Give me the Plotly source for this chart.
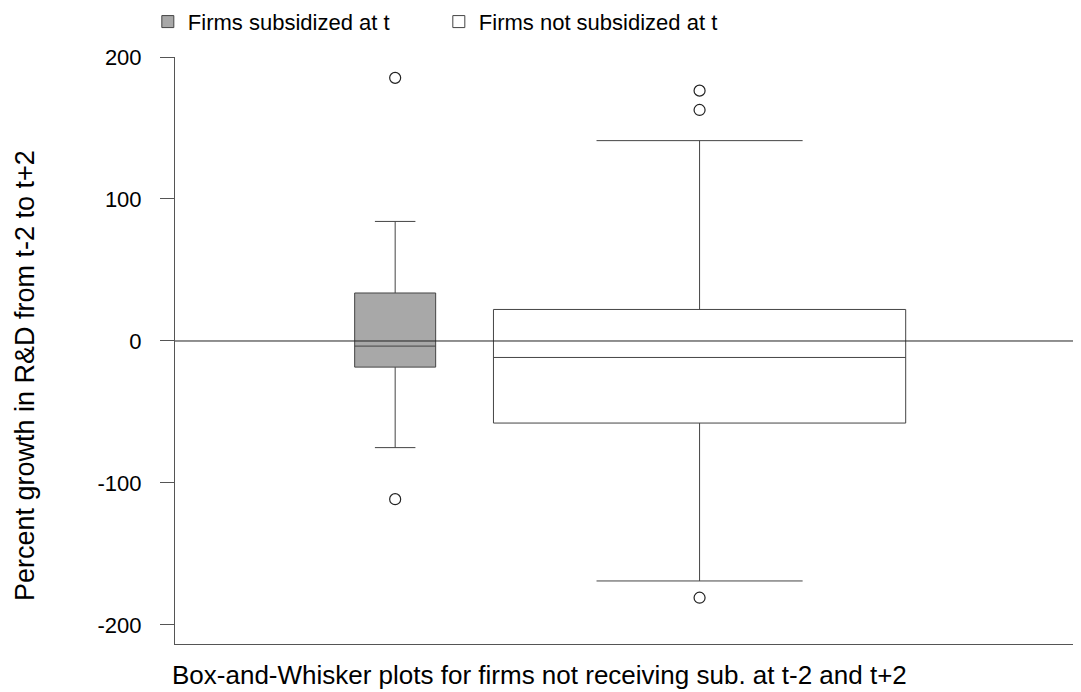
import plotly.graph_objects as go

# ---- data ----
groups = ["Firms subsidized at t", "Firms not subsidized at t"]
q1 = [-18.4, -57.8]
median = [-3.6, -11.6]
q3 = [33.8, 22.2]
lowerfence = [-75.1, -169.0]
upperfence = [84.2, 141.1]
outliers = [[185.3, -111.4], [176.3, 162.7, -180.8]]
ytick_vals = [-200, -100, 0, 100, 200]
ytick_text = ["-200", "-100", "0", "100", "200"]

# ---- layout constants ----
positions = [2.43, 5.79]
widths = [0.894, 4.55]
fills = ["#a8a8a8", "#ffffff"]
FONT = "Liberation Sans, Arial, Helvetica, sans-serif"

fig = go.Figure()
for i, name in enumerate(groups):
    fig.add_trace(go.Box(
        name=name,
        x=[positions[i]],
        q1=[q1[i]], median=[median[i]], q3=[q3[i]],
        lowerfence=[lowerfence[i]], upperfence=[upperfence[i]],
        width=widths[i],
        whiskerwidth=0.5,
        fillcolor=fills[i],
        line=dict(color="#444444", width=1),
        boxpoints=False,
        showlegend=True,
    ))
    fig.add_trace(go.Scatter(
        x=[positions[i]] * len(outliers[i]),
        y=outliers[i],
        mode="markers",
        marker=dict(symbol="circle-open", size=11, color="#222222", line=dict(width=1.2)),
        showlegend=False,
        hoverinfo="y",
    ))

# zero reference line
fig.add_shape(type="line", xref="paper", yref="y", x0=0, x1=1, y0=0, y1=0,
              line=dict(color="#222222", width=1))

fig.update_layout(
    width=1073, height=684,
    margin=dict(l=167, r=0, t=49, b=48, autoexpand=False),
    plot_bgcolor="white", paper_bgcolor="white",
    font=dict(family=FONT, size=20, color="black"),
    boxmode="overlay",
    legend=dict(orientation="h", x=-0.03, xanchor="left", y=1.06, yanchor="middle",
                entrywidth=246, entrywidthmode="pixels",
                font=dict(family=FONT, size=22), bgcolor="rgba(0,0,0,0)"),
    xaxis=dict(range=[0, 10], showticklabels=False, ticks="", showgrid=False,
               zeroline=False, showline=True, linecolor="#555555", linewidth=1),
    yaxis=dict(range=[-213.4, 200], tickvals=ytick_vals, ticktext=ytick_text,
               ticks="outside", ticklen=14, tickcolor="#555555", tickwidth=1,
               showgrid=False, zeroline=False, showline=True,
               linecolor="#555555", linewidth=1, ticklabelstandoff=14,
               tickfont=dict(family=FONT, size=22)),
    annotations=[
        dict(text="Percent growth in R&D from t-2 to t+2", xref="paper", yref="paper",
             x=-0.1656, y=0.458, xanchor="center", yanchor="middle", textangle=-90,
             showarrow=False, font=dict(family=FONT, size=27)),
        dict(text="Box-and-Whisker plots for firms not receiving sub. at t-2 and t+2",
             xref="paper", yref="paper", x=0.402, y=-0.053, xanchor="center",
             yanchor="middle", showarrow=False, font=dict(family=FONT, size=26)),
    ],
)

fig.write_html("out.html")
